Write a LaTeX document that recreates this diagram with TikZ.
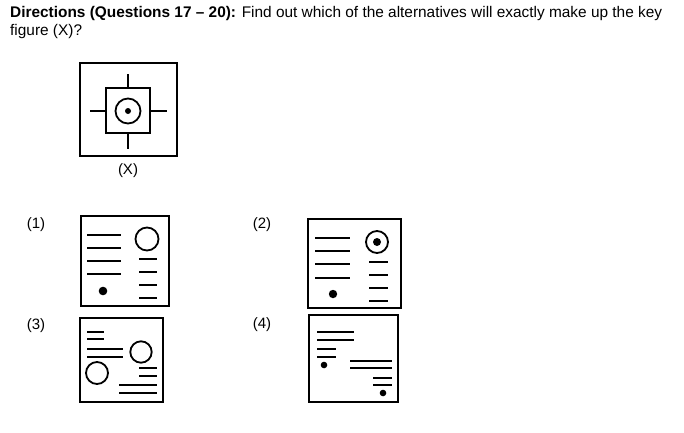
\documentclass[tikz,border=0pt]{standalone}
\usepackage{fontspec}
\setmainfont{Liberation Sans}
\begin{document}
\begin{tikzpicture}[x=1pt,y=-1pt,
  frame/.style={line width=1.8pt},
  bar/.style={line width=2.4pt},
  ring/.style={line width=1.8pt},
  lbl/.style={font=\fontsize{15}{18}\selectfont, inner sep=0pt},
  ttl/.style={font=\fontsize{15.4}{18}\selectfont, inner sep=0pt},
  blob/.style={fill=black}]
\useasboundingbox (0,0) rectangle (684,432);
% title
\node[ttl, anchor=base west] (t1) at (10,17) {\textbf{Directions (Questions 17 – 20):} Find out which of the alternatives will exactly make up the key};
\node[ttl, anchor=base west] (t2) at (10,35) {figure (X)?};
% key figure X
\draw[frame] (80,63) rectangle (177,156);
\draw[frame] (106,88) rectangle (150,133);
\draw[frame] (128,74) -- (128,88) (128,133) -- (128,149) (90,111) -- (106,111) (150,111) -- (167,111);
\draw[ring] (128,111) circle (12.5);
\fill[blob] (128,111) circle (3);
\node[lbl] (lx) at (128,171) {(X)};
% labels
\node[lbl] (l1) at (36,225) {(1)};
\node[lbl] (l2) at (262,225) {(2)};
\node[lbl] (l3) at (36,326) {(3)};
\node[lbl] (l4) at (262,325) {(4)};
% figure 1
\draw[frame] (81,216) rectangle (169,306);
\foreach \y in {235,248,261,274} \draw[bar] (87,\y) -- (121,\y);
\foreach \y in {259,272,285,298} \draw[bar] (139,\y) -- (157,\y);
\draw[ring] (147,239) circle (11.5);
\fill[blob] (103,291) circle (4.3);
% figure 2
\draw[frame] (308,219) rectangle (401,308);
\foreach \y in {238,251,264,278} \draw[bar] (315,\y) -- (350,\y);
\foreach \y in {262,275,288,301} \draw[bar] (369,\y) -- (388,\y);
\draw[ring] (377,242) circle (11);
\fill[blob] (377,242) circle (4);
\fill[blob] (333,294) circle (4.2);
% figure 3
\draw[frame] (80,318) rectangle (163,402);
\foreach \y in {332,339} \draw[bar] (87,\y) -- (104,\y);
\foreach \y in {349,357} \draw[bar] (87,\y) -- (123,\y);
\draw[ring] (141,352) circle (10.7);
\draw[ring] (97,373) circle (11);
\foreach \y in {368,376} \draw[bar] (139,\y) -- (157,\y);
\foreach \y in {385,393} \draw[bar] (119,\y) -- (157,\y);
% figure 4
\draw[frame] (309,315) rectangle (398,402);
\foreach \y in {332,340} \draw[bar] (317,\y) -- (354,\y);
\foreach \y in {349,357} \draw[bar] (317,\y) -- (336,\y);
\fill[blob] (324,365) circle (3.3);
\foreach \y in {361,368} \draw[bar] (350,\y) -- (392,\y);
\foreach \y in {378,385} \draw[bar] (373,\y) -- (392,\y);
\fill[blob] (383,393) circle (3.3);
\end{tikzpicture}
\end{document}
